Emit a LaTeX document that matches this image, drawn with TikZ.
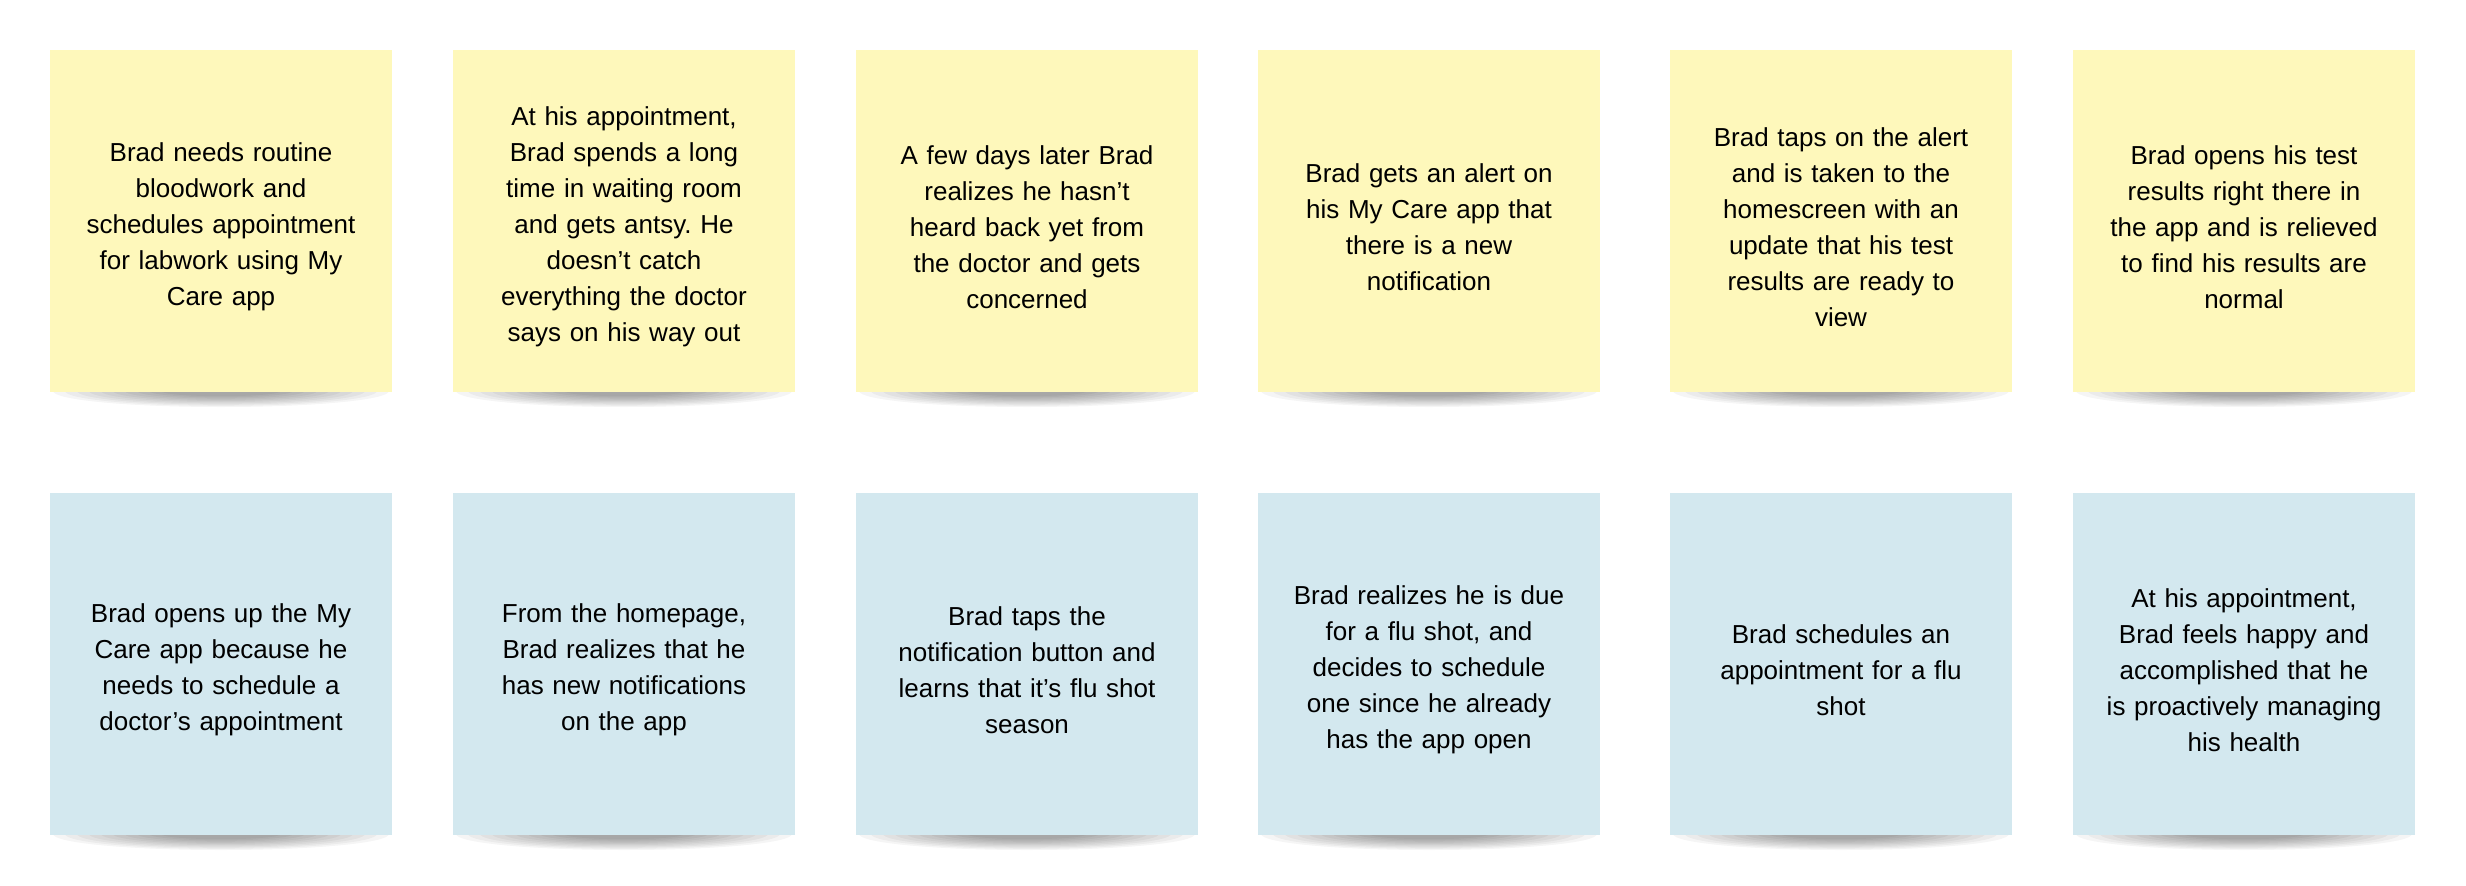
\documentclass[tikz,border=0pt]{standalone}
\usepackage{fontspec}
\setmainfont{Liberation Sans}
\frenchspacing
\definecolor{noteyellow}{HTML}{FEF8BB}
\definecolor{noteblue}{HTML}{D3E8EF}
\tikzset{
  notebox/.style={minimum width=342pt, minimum height=342pt, inner sep=0pt, outer sep=0pt, anchor=north west},
  notetext/.style={text width=340pt, align=center, font=\fontsize{26}{36}\selectfont, inner sep=0pt, text=black},
  shadowblob/.style={fill=black, opacity=0.038},
}
\newcommand\stickynote[5]{%
  \foreach \k in {0,...,9}{%
    \fill[shadowblob] (#2+171, #3+341) ellipse [x radius={168-\k*12}, y radius={16-\k*1.2}];
  }
  \node[notebox, fill=#4] (#1) at (#2,#3) {};
  \node[notetext] (#1t) at ([yshift=-6pt]#1.center) {\frenchspacing #5};
}
\begin{document}
\begin{tikzpicture}[x=1pt, y=-1pt]
\fill[white] (0,0) rectangle (2466,886);
\useasboundingbox (0,0) rectangle (2466,886);
% yellow row
\stickynote{y1}{50}{50}{noteyellow}{Brad needs routine\\ bloodwork and\\ schedules appointment\\ for labwork using My\\ Care app}
\stickynote{y2}{453}{50}{noteyellow}{At his appointment,\\ Brad spends a long\\ time in waiting room\\ and gets antsy. He\\ doesn’t catch\\ everything the doctor\\ says on his way out}
\stickynote{y3}{856}{50}{noteyellow}{A few days later Brad\\ realizes he hasn’t\\ heard back yet from\\ the doctor and gets\\ concerned}
\stickynote{y4}{1258}{50}{noteyellow}{Brad gets an alert on\\ his My Care app that\\ there is a new\\ notification}
\stickynote{y5}{1670}{50}{noteyellow}{Brad taps on the alert\\ and is taken to the\\ homescreen with an\\ update that his test\\ results are ready to\\ view}
\stickynote{y6}{2073}{50}{noteyellow}{Brad opens his test\\ results right there in\\ the app and is relieved\\ to find his results are\\ normal}
% blue row
\stickynote{b1}{50}{493}{noteblue}{Brad opens up the My\\ Care app because he\\ needs to schedule a\\ doctor’s appointment}
\stickynote{b2}{453}{493}{noteblue}{From the homepage,\\ Brad realizes that he\\ has new notifications\\ on the app}
\stickynote{b3}{856}{493}{noteblue}{Brad taps the\\ notification button and\\ learns that it’s flu shot\\ season}
\stickynote{b4}{1258}{493}{noteblue}{Brad realizes he is due\\ for a flu shot, and\\ decides to schedule\\ one since he already\\ has the app open}
\stickynote{b5}{1670}{493}{noteblue}{Brad schedules an\\ appointment for a flu\\ shot}
\stickynote{b6}{2073}{493}{noteblue}{At his appointment,\\ Brad feels happy and\\ accomplished that he\\ is proactively managing\\ his health}
\end{tikzpicture}
\end{document}
